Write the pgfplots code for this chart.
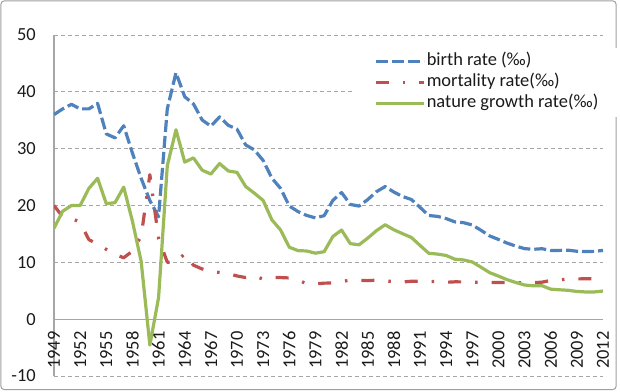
\documentclass[border=0pt]{standalone}
\usepackage{fontspec}
\setmainfont{Carlito}
\usepackage{pgfplots}
\usepackage{pgfplotstable}
\pgfplotsset{compat=1.18}
\definecolor{cblue}{HTML}{4F81BD}
\definecolor{cred}{HTML}{C0504D}
\definecolor{cgreen}{HTML}{9BBB59}
\definecolor{gridgray}{HTML}{A6A6A6}
\definecolor{txt}{HTML}{1A1A1A}
\pgfplotstableread{
year birth death growth
1949 36.00 20.00 16.00
1950 37.00 18.00 19.00
1951 37.80 17.80 20.00
1952 37.00 17.00 20.00
1953 37.00 14.00 23.00
1954 37.97 13.18 24.79
1955 32.60 12.28 20.32
1956 31.90 11.40 20.50
1957 34.03 10.80 23.23
1958 29.22 11.98 17.24
1959 24.78 14.59 10.19
1960 20.86 25.43 -4.57
1961 18.02 14.24 3.78
1962 37.01 10.02 26.99
1963 43.37 10.04 33.33
1964 39.14 11.50 27.64
1965 37.88 9.50 28.38
1966 35.05 8.83 26.22
1967 33.96 8.43 25.53
1968 35.59 8.21 27.38
1969 34.11 8.03 26.08
1970 33.43 7.60 25.83
1971 30.65 7.32 23.33
1972 29.77 7.61 22.16
1973 27.93 7.04 20.89
1974 24.82 7.34 17.48
1975 23.01 7.32 15.69
1976 19.91 7.25 12.66
1977 18.93 6.87 12.06
1978 18.25 6.25 12.00
1979 17.82 6.21 11.61
1980 18.21 6.34 11.87
1981 20.91 6.36 14.55
1982 22.28 6.60 15.68
1983 20.19 6.90 13.29
1984 19.90 6.82 13.08
1985 21.04 6.78 14.26
1986 22.43 6.86 15.57
1987 23.33 6.72 16.61
1988 22.37 6.64 15.73
1989 21.58 6.54 15.04
1990 21.06 6.67 14.39
1991 19.68 6.70 12.98
1992 18.24 6.64 11.60
1993 18.09 6.64 11.45
1994 17.70 6.49 11.21
1995 17.12 6.57 10.55
1996 16.98 6.56 10.42
1997 16.57 6.51 10.06
1998 15.64 6.50 9.14
1999 14.64 6.46 8.18
2000 14.03 6.45 7.58
2001 13.38 6.43 6.95
2002 12.86 6.41 6.45
2003 12.41 6.40 6.01
2004 12.29 6.42 5.87
2005 12.40 6.51 5.89
2006 12.09 6.81 5.28
2007 12.10 6.93 5.17
2008 12.14 7.06 5.08
2009 11.95 7.08 4.87
2010 11.90 7.11 4.79
2011 11.93 7.14 4.79
2012 12.10 7.15 4.95
}\datatable
\begin{document}
\begin{tikzpicture}
\useasboundingbox (-54bp,-16bp) rectangle (566bp,376bp);
\draw[gray!75, line width=1bp, rounded corners=3bp] (-53bp,-13.5bp) rectangle (562bp,375bp);
\begin{axis}[
  at={(0,0)}, anchor=south west,
  scale only axis, width=549bp, height=341bp,
  xmin=1949, xmax=2012, ymin=-10, ymax=50,
  axis x line=middle, axis y line=left,
  axis line style={draw=gridgray, line width=1.2bp, -},
  hide obscured x ticks=false, hide obscured y ticks=false,
  ymajorgrids,
  grid style={gridgray, dash pattern=on 4bp off 3bp, line width=0.8bp},
  ytick={-10,0,10,20,30,40,50},
  yticklabels={-10,0,10,20,30,40,50},
  xtick={1949,1952,1955,1958,1961,1964,1967,1970,1973,1976,1979,1982,1985,1988,1991,1994,1997,2000,2003,2006,2009,2012},
  xticklabels={1949,1952,1955,1958,1961,1964,1967,1970,1973,1976,1979,1982,1985,1988,1991,1994,1997,2000,2003,2006,2009,2012},
  major tick length=0pt,
  tick style={draw=none},
  tick label style={font=\fontsize{18.5}{22}\selectfont, text=txt},
  xticklabel style={yshift=-12bp, rotate=90, anchor=east, inner sep=0pt},
  yticklabel style={anchor=east, inner sep=0pt, xshift=-18bp},
  no marks,
  legend style={at={(0.548,0.963)}, anchor=north west, draw=none, fill=white,
    inner xsep=19bp, inner ysep=3bp, font=\fontsize{18.5}{22}\selectfont, text=txt,
    nodes={inner xsep=1.5bp, inner ysep=2bp, text height=13bp, text depth=4bp}, row sep=0pt},
  legend cell align=left,
  legend image code/.code={\draw[#1] (0bp,0bp) -- (48bp,0bp);},
]
\addplot[cblue, line width=3.2bp, dash pattern=on 12bp off 4bp, line join=round] table[x=year,y=birth]{\datatable};
\addlegendentry{birth rate (‰)}
\addplot[cred, line width=3.2bp, dash pattern=on 13bp off 14bp on 2.5bp off 14bp, line join=round] table[x=year,y=death]{\datatable};
\addlegendentry{mortality rate(‰)}
\addplot[cgreen, line width=3.2bp, line join=round] table[x=year,y=growth]{\datatable};
\addlegendentry{nature growth rate(‰)}
\end{axis}
\end{tikzpicture}
\end{document}
